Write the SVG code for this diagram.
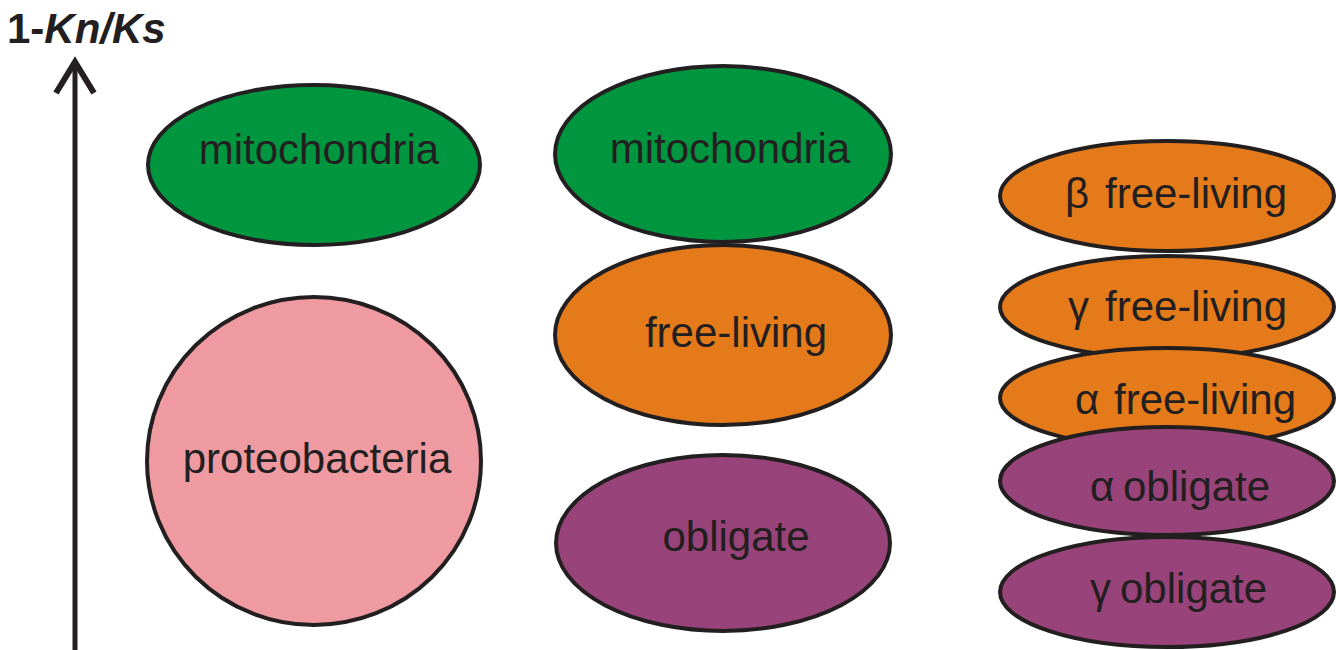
<svg xmlns="http://www.w3.org/2000/svg" width="1336" height="650" viewBox="0 0 1336 650">
<style>
.e{stroke:#231f20;stroke-width:4}
.g{fill:#009640}
.o{fill:#e57a1a}
.p{fill:#984379}
.k{fill:#ef9aa0}
.t{font-family:"Liberation Sans",Arial,sans-serif;font-size:42px;fill:#231f20}
.ax{font-family:"Liberation Sans",Arial,sans-serif;font-size:42px;font-weight:bold;fill:#231f20}
</style>
<rect width="1336" height="650" fill="#ffffff"/>
<g id="axis">
<line x1="75" y1="64" x2="75" y2="650" stroke="#231f20" stroke-width="5"/>
<polyline points="56,93 75,62 94,93" fill="none" stroke="#231f20" stroke-width="6"/>
<text class="ax" x="7" y="43">1-<tspan font-style="italic">Kn/Ks</tspan></text>
</g>
<g id="mito-left"><ellipse class="e g" cx="314" cy="165" rx="166" ry="80"/><text class="t" x="319" y="164" text-anchor="middle">mitochondria</text></g>
<g id="proteobacteria"><ellipse class="e k" cx="314" cy="461" rx="167" ry="164"/><text class="t" x="317" y="473" text-anchor="middle">proteobacteria</text></g>
<g id="mito-mid"><ellipse class="e g" cx="723" cy="154" rx="168" ry="88"/><text class="t" x="730" y="163" text-anchor="middle">mitochondria</text></g>
<g id="free-living"><ellipse class="e o" cx="723" cy="335" rx="168" ry="90"/><text class="t" x="736" y="347" text-anchor="middle">free-living</text></g>
<g id="obligate"><ellipse class="e p" cx="723" cy="543" rx="167" ry="88"/><text class="t" x="736" y="551" text-anchor="middle">obligate</text></g>
<g id="beta-free"><ellipse class="e o" cx="1167" cy="196" rx="167" ry="55"/><text class="t" x="1065" y="208">β <tspan x="1105">free-living</tspan></text></g>
<g id="gamma-free"><ellipse class="e o" cx="1167" cy="307" rx="167" ry="51"/><text class="t" x="1068" y="321">γ <tspan x="1105">free-living</tspan></text></g>
<g id="alpha-free"><ellipse class="e o" cx="1167" cy="398" rx="167" ry="50"/><text class="t" x="1075" y="414">α <tspan x="1114">free-living</tspan></text></g>
<g id="alpha-obligate"><ellipse class="e p" cx="1167" cy="481" rx="167" ry="54"/><text class="t" x="1090" y="501">α <tspan x="1123">obligate</tspan></text></g>
<g id="gamma-obligate"><ellipse class="e p" cx="1167" cy="592" rx="167" ry="55"/><text class="t" x="1090" y="603">γ <tspan x="1120">obligate</tspan></text></g>
<g id="connectors"></g>
</svg>
